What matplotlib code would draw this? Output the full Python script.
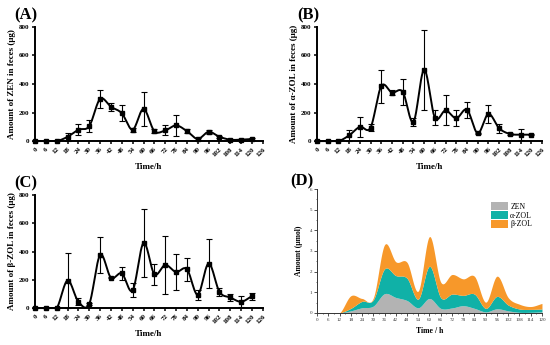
import numpy as np
import matplotlib
matplotlib.use("Agg")
import matplotlib.pyplot as plt
from matplotlib.patches import Patch

# ---------------- data ----------------
time_h = [0, 6, 12, 18, 24, 30, 36, 42, 48, 54, 60, 66, 72, 78, 84, 90, 96, 102, 108, 114, 120]

zen_ug = [0, 0, 0, 30, 80, 105, 295, 240, 195, 80, 225, 70, 75, 110, 70, 15, 65, 30, 10, 10, 15]
zen_err = [0, 0, 0, 30, 40, 40, 65, 30, 55, 15, 120, 15, 35, 75, 15, 5, 15, 5, 3, 5, 5]

azol_ug = [0, 0, 0, 40, 100, 95, 385, 340, 345, 135, 500, 165, 215, 160, 220, 55, 190, 90, 50, 45, 45]
azol_err = [0, 0, 0, 40, 70, 25, 115, 15, 90, 30, 280, 55, 105, 55, 55, 5, 60, 30, 10, 40, 5]

bzol_ug = [0, 0, 0, 195, 45, 30, 375, 215, 245, 125, 460, 240, 305, 255, 275, 95, 315, 115, 75, 45, 85]
bzol_err = [0, 0, 0, 195, 25, 5, 130, 5, 45, 50, 240, 75, 205, 125, 80, 35, 170, 30, 25, 40, 25]

# panel D (μmol, stacked layers)
zen_umol = [0, 0, 0, 0.10, 0.25, 0.33, 0.93, 0.75, 0.60, 0.25, 0.70, 0.22, 0.24, 0.35, 0.22, 0.05, 0.20, 0.10, 0.03, 0.03, 0.05]
azol_umol = [0, 0, 0, 0.12, 0.31, 0.30, 1.20, 1.06, 1.08, 0.42, 1.56, 0.52, 0.67, 0.50, 0.69, 0.17, 0.60, 0.28, 0.16, 0.14, 0.14]
bzol_umol = [0, 0, 0, 0.61, 0.14, 0.09, 1.17, 0.67, 0.77, 0.39, 1.44, 0.75, 0.95, 0.80, 0.86, 0.30, 0.98, 0.36, 0.23, 0.14, 0.27]

x_ticks_ac = list(range(0, 127, 6))
y_ticks_ac = [0, 200, 400, 600, 800]
ylabels_ac = ["Amount of ZEN in feces (μg)", "Amount of α-ZOL in feces (μg)", "Amount of β-ZOL in feces (μg)"]
panel_tags = ["(A)", "(B)", "(C)", "(D)"]
legend_names = ["ZEN", "α-ZOL", "β-ZOL"]
colors_d = ["#b3b3b3", "#10b1a7", "#f7982a"]

SERIF = ["Liberation Serif", "DejaVu Serif"]
plt.rcParams["font.family"] = SERIF
plt.rcParams["mathtext.fontset"] = "stix"


def smooth(x, y, n=24):
    x = np.asarray(x, float)
    y = np.asarray(y, float)
    m = np.gradient(y, x)
    xs, ys = [], []
    for i in range(len(x) - 1):
        t = np.linspace(0, 1, n, endpoint=False)
        h = x[i + 1] - x[i]
        h00 = 2 * t**3 - 3 * t**2 + 1
        h10 = t**3 - 2 * t**2 + t
        h01 = -2 * t**3 + 3 * t**2
        h11 = t**3 - t**2
        xs.append(x[i] + t * h)
        ys.append(h00 * y[i] + h10 * h * m[i] + h01 * y[i + 1] + h11 * h * m[i + 1])
    xs.append([x[-1]])
    ys.append([y[-1]])
    return np.concatenate(xs), np.concatenate(ys)


fig = plt.figure(figsize=(5.5, 3.45), dpi=100)

positions = [
    [0.0636, 0.591, 0.4144, 0.331],
    [0.5764, 0.591, 0.4090, 0.331],
    [0.0636, 0.107, 0.4144, 0.328],
]
series = [(zen_ug, zen_err), (azol_ug, azol_err), (bzol_ug, bzol_err)]

for k in range(3):
    ax = fig.add_axes(positions[k])
    y, e = series[k]
    sx, sy = smooth(time_h, y)
    sy = np.clip(sy, 0, None)
    ax.plot(sx, sy, color="black", lw=1.4, zorder=3, clip_on=False)
    ax.errorbar(time_h, y, yerr=e, fmt="s", ms=2.6, color="black", ecolor="black",
                elinewidth=0.8, capsize=2.2, capthick=0.8, zorder=4, clip_on=False)
    ax.set_xlim(0, 126)
    ax.set_ylim(0, 800)
    ax.set_xticks(x_ticks_ac)
    ax.set_xticklabels([str(v) for v in x_ticks_ac], rotation=45, ha="right",
                       rotation_mode="anchor", fontsize=5.0, fontweight="bold")
    ax.set_yticks(y_ticks_ac)
    ax.set_yticklabels([str(v) for v in y_ticks_ac], fontsize=5.0, fontweight="bold")
    for s in ["top", "right"]:
        ax.spines[s].set_visible(False)
    for s in ["left", "bottom"]:
        ax.spines[s].set_linewidth(1.4)
    ax.tick_params(axis="both", direction="out", length=2.5, width=1.1, pad=1.5)
    ax.set_ylabel(ylabels_ac[k], fontsize=6.5, fontweight="bold", labelpad=2)
    ax.set_xlabel("Time/h", fontsize=6.5, fontweight="bold", labelpad=4)
    ax.text(-0.09, 1.03, panel_tags[k], transform=ax.transAxes, fontsize=12,
            fontweight="bold", ha="left", va="bottom")

# panel D
axd = fig.add_axes([0.5764, 0.093, 0.409, 0.359])
sx, z = smooth(time_h, zen_umol)
_, a = smooth(time_h, np.add(zen_umol, azol_umol))
_, b = smooth(time_h, np.add(np.add(zen_umol, azol_umol), bzol_umol))
z = np.clip(z, 0, None)
a = np.maximum(np.clip(a, 0, None), z)
b = np.maximum(np.clip(b, 0, None), a)
axd.fill_between(sx, 0, z, color=colors_d[0], lw=0)
axd.fill_between(sx, z, a, color=colors_d[1], lw=0)
axd.fill_between(sx, a, b, color=colors_d[2], lw=0)
axd.set_xlim(0, 120)
axd.set_ylim(0, 6)
axd.set_xticks(list(range(0, 121, 6)))
axd.set_xticks(list(range(3, 121, 6)), minor=True)
axd.set_yticks(list(range(0, 7)))
axd.set_yticks([v + 0.5 for v in range(6)], minor=True)
axd.tick_params(axis="both", which="major", labelsize=3.6, length=2, width=0.6, pad=1.5, colors="#333333")
axd.tick_params(axis="both", which="minor", length=1, width=0.5, colors="#333333")
for s in ["top", "right"]:
    axd.spines[s].set_visible(False)
for s in ["left", "bottom"]:
    axd.spines[s].set_linewidth(0.7)
    axd.spines[s].set_color("#333333")
axd.set_ylabel("Amount (μmol)", fontsize=5.5, fontweight="bold", labelpad=5)
axd.set_xlabel("Time / h", fontsize=5.6, fontweight="bold", labelpad=4)
axd.text(-0.12, 1.0, panel_tags[3], transform=axd.transAxes, fontsize=12,
         fontweight="bold", ha="left", va="bottom")
handles = [Patch(facecolor=c, edgecolor="none") for c in colors_d]
axd.legend(handles, legend_names, loc="upper right", bbox_to_anchor=(0.97, 0.92),
           frameon=False, fontsize=5.6, handlelength=2.2, handleheight=1.25,
           labelspacing=0.0, handletextpad=0.3, borderaxespad=0)

fig.savefig("out.png", dpi=100)
